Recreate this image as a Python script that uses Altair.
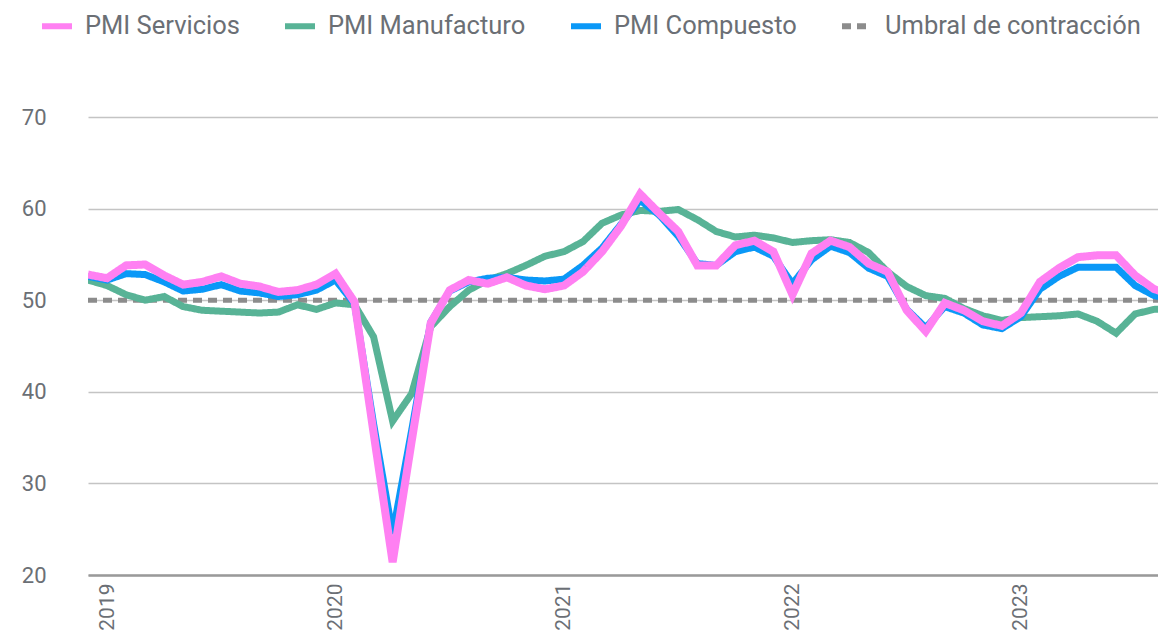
import altair as alt
import pandas as pd

# Monthly PMI readings, Dec 2018 onward (index 0 = Dec 2018)
servicios = [52.8, 52.4, 53.8, 53.9, 52.7, 51.7, 52.0, 52.6, 51.8, 51.5,
             50.9, 51.1, 51.7, 52.9, 49.8, 35.5, 21.4, 34.6, 47.5, 51.1,
             52.2, 51.8, 52.5, 51.6, 51.2, 51.6, 53.1, 55.3, 58.1, 61.6,
             59.5, 57.5, 53.8, 53.8, 56.0, 56.5, 55.3, 50.6, 55.1, 56.5,
             55.8, 54.0, 53.1, 48.9, 46.6, 49.7, 48.9, 47.7, 47.2, 48.6,
             52.0, 53.5, 54.7, 54.9, 54.9, 52.7, 51.2, 50.6]
compuesto = [52.6, 52.2, 52.9, 52.8, 52.0, 51.0, 51.2, 51.7, 51.0, 50.8,
             50.4, 50.6, 51.1, 52.2, 49.6, 36.5, 24.5, 35.8, 47.6, 51.0,
             52.0, 52.4, 52.5, 52.2, 52.1, 52.3, 53.8, 55.7, 58.3, 60.9,
             59.3, 57.0, 54.0, 53.8, 55.3, 55.8, 54.8, 51.8, 54.4, 55.9,
             55.2, 53.5, 52.6, 49.0, 47.0, 49.3, 48.6, 47.3, 46.9, 48.2,
             51.2, 52.6, 53.6, 53.6, 53.6, 51.6, 50.5, 50.1]
manufactura = [52.2, 51.6, 50.6, 50.0, 50.4, 49.3, 48.9, 48.8, 48.7, 48.6,
               48.7, 49.5, 49.0, 49.7, 49.5, 46.0, 36.8, 39.8, 47.1, 49.3,
               51.1, 52.2, 52.9, 53.8, 54.8, 55.3, 56.4, 58.4, 59.3, 59.8,
               59.7, 59.9, 58.8, 57.5, 56.9, 57.1, 56.8, 56.3, 56.5, 56.6,
               56.3, 55.2, 53.1, 51.5, 50.5, 50.2, 49.1, 48.3, 47.8, 48.1,
               48.2, 48.3, 48.5, 47.7, 46.4, 48.5, 49.0, 49.1]
umbral = 50

series_names = ["PMI Servicios", "PMI Manufacturo", "PMI Compuesto",
                "Umbral de contracción"]
series_colors = ["#FF80F2", "#58B396", "#0A98F7", "#8C8C8C"]
year_ticks = [1, 13, 25, 37, 49]  # January of 2019..2023
first_year = 2019

rows = []
for i, v in enumerate(servicios):
    rows.append({"i": i, "valor": v, "serie": "PMI Servicios"})
for i, v in enumerate(manufactura):
    rows.append({"i": i, "valor": v, "serie": "PMI Manufacturo"})
for i, v in enumerate(compuesto):
    rows.append({"i": i, "valor": v, "serie": "PMI Compuesto"})
for i in [0, len(servicios) - 1]:
    rows.append({"i": i, "valor": umbral, "serie": "Umbral de contracción"})
df = pd.DataFrame(rows)

FONT = "Roboto"

x = alt.X("i:Q",
          scale=alt.Scale(domain=[0, 56.2], nice=False, zero=False),
          axis=alt.Axis(values=year_ticks, grid=False, ticks=False,
                        labelAngle=-90, labelFontSize=21, labelColor="#6b6f75",
                        labelFont=FONT, labelPadding=8, domainColor="#9a9a9a",
                        domainWidth=2.5, labelExpr=f"'' + ({first_year} + floor(datum.value / 12))",
                        title=None))
y = alt.Y("valor:Q",
          scale=alt.Scale(domain=[20, 70], nice=False, zero=False),
          axis=alt.Axis(values=[20, 30, 40, 50, 60, 70], grid=True,
                        gridColor="#c4c4c4", gridWidth=1.5, ticks=False,
                        domain=False, labelFontSize=22, labelColor="#6b6f75",
                        labelFont=FONT, labelPadding=42, title=None))
color = alt.Color("serie:N",
                  scale=alt.Scale(domain=series_names, range=series_colors),
                  legend=alt.Legend(title=None, orient="none", direction="horizontal",
                                    legendX=-49, legendY=-109,
                                    symbolType="stroke", symbolSize=900,
                                    symbolStrokeWidth=6, labelFontSize=25.5,
                                    labelFont=FONT, labelColor="#6b6f75",
                                    labelOffset=10, columnPadding=33,
                                    labelLimit=400))
dash = alt.StrokeDash("serie:N",
                      scale=alt.Scale(domain=series_names,
                                      range=[[1, 0], [1, 0], [1, 0], [9, 6]]),
                      legend=None)

base = alt.Chart(df).encode(x=x, y=y, color=color, strokeDash=dash)

def layer(name, width):
    return base.transform_filter(alt.datum.serie == name).mark_line(
        strokeWidth=width, clip=True, strokeCap="butt", strokeJoin="miter")

chart = alt.layer(
    layer("Umbral de contracción", 5),
    layer("PMI Manufacturo", 7),
    layer("PMI Compuesto", 7),
    layer("PMI Servicios", 8),
).properties(
    width=1070, height=458,
    autosize=alt.AutoSizeParams(type="none"),
    padding={"left": 80, "top": 109, "right": 0, "bottom": 59},
).configure_view(stroke=None)

chart.save("out.html", embed_options={"renderer": "svg", "actions": False})
